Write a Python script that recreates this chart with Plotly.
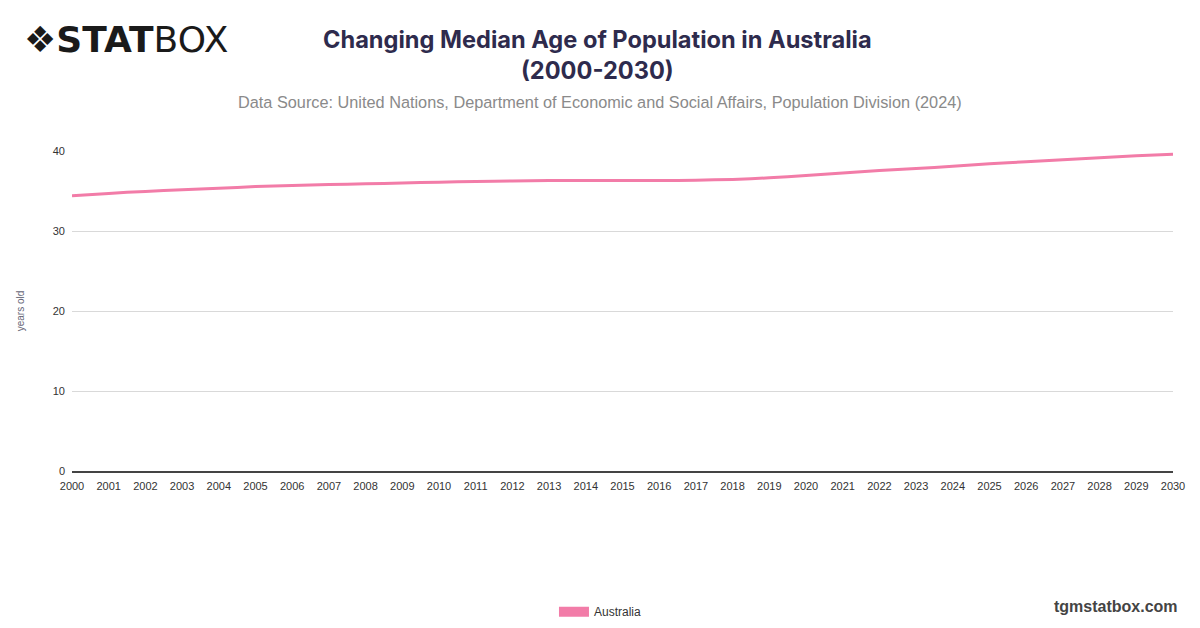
import plotly.graph_objects as go

years = list(range(2000, 2031))
median_age = [
    34.4, 34.7, 34.95, 35.15, 35.35, 35.55, 35.7, 35.8, 35.9, 36.0,
    36.1, 36.2, 36.25, 36.3, 36.3, 36.3, 36.3, 36.35, 36.45, 36.65,
    36.95, 37.25, 37.55, 37.8, 38.1, 38.4, 38.65, 38.9, 39.15, 39.4,
    39.6,
]
country = "Australia"
y_ticks = [0, 10, 20, 30, 40]

pink = "#f27ca8"
grey_txt = "#555555"

fig = go.Figure()

# the actual line
fig.add_trace(go.Scatter(
    x=years,
    y=median_age,
    mode="lines",
    line=dict(color=pink, width=3, shape="spline", smoothing=0.6),
    name=country,
    showlegend=False,
    hovertemplate="%{x}: %{y:.1f}<extra></extra>",
))

# legend entry (thick line to look like the rounded swatch)
fig.add_trace(go.Scatter(
    x=[None],
    y=[None],
    mode="lines",
    line=dict(color=pink, width=14),
    name=country,
    showlegend=True,
))

# page has an 8px body margin, margins below allow for it
fig.update_layout(
    width=1200,
    height=628,
    paper_bgcolor="white",
    plot_bgcolor="white",
    margin=dict(l=64, r=35, t=143, b=165, autoexpand=False),
    font=dict(family="Liberation Sans, Arial, sans-serif", color=grey_txt, size=11),
    showlegend=True,
    legend=dict(
        orientation="h",
        x=0.48,
        xanchor="center",
        y=-0.44,
        yanchor="middle",
        font=dict(size=12, color="#333333"),
        itemwidth=30,
    ),
    xaxis=dict(
        tickmode="array",
        tickvals=years,
        ticktext=[str(y) for y in years],
        range=[2000, 2030],
        showgrid=False,
        showline=True,
        linecolor="#444444",
        linewidth=1.5,
        ticks="",
        ticklabelstandoff=4,
        tickfont=dict(size=11, color="#333333"),
        zeroline=False,
        automargin=False,
        fixedrange=True,
    ),
    yaxis=dict(
        range=[0, 40],
        tickvals=y_ticks,
        showgrid=True,
        gridcolor="#d9d9d9",
        gridwidth=1,
        zeroline=False,
        ticks="",
        ticklabelstandoff=6,
        tickfont=dict(size=11, color="#333333"),
        title=dict(text="years old", font=dict(size=10, color="#666677"), standoff=26),
        automargin=False,
        fixedrange=True,
    ),
    annotations=[
        dict(
            text="<b>Changing Median Age of Population in Australia</b><br><b>(2000-2030)</b>",
            xref="paper", yref="paper",
            x=0.477, y=1.30,
            xanchor="center", yanchor="middle",
            showarrow=False,
            font=dict(family="Inter, Roboto, sans-serif", size=23.6, color="#2e2b4d"),
        ),
        dict(
            text="Data Source: United Nations, Department of Economic and Social Affairs, Population Division (2024)",
            xref="paper", yref="paper",
            x=0.48, y=1.153,
            xanchor="center", yanchor="middle",
            showarrow=False,
            font=dict(family="Liberation Sans, Arial, sans-serif", size=16.3, color="#8a8a8a"),
        ),
        dict(
            text="❖<b>STAT</b>BOX",
            xref="paper", yref="paper",
            x=-0.045, y=1.347,
            xanchor="left", yanchor="middle",
            showarrow=False,
            font=dict(family="DejaVu Sans, sans-serif", size=36, color="#1a1a1a"),
        ),
        dict(
            text="<b>tgmstatbox.com</b>",
            xref="paper", yref="paper",
            x=1.006, y=-0.422,
            xanchor="right", yanchor="middle",
            showarrow=False,
            font=dict(family="Liberation Sans, Arial, sans-serif", size=16, color="#444444"),
        ),
    ],
)

fig.write_html("out.html")
